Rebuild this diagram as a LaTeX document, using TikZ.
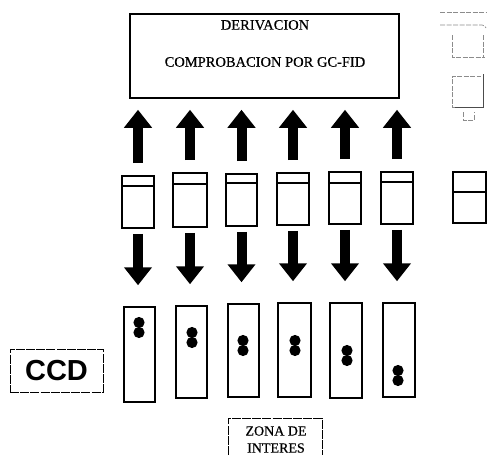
\documentclass[tikz,border=0pt]{standalone}
\usepackage{fontspec}
\setmainfont{Liberation Serif}[FakeBold=0.5]
\newfontfamily\ccdfont{Liberation Sans}
\usetikzlibrary{arrows.meta}
\begin{document}
\begin{tikzpicture}[x=1pt,y=-1pt,
  vial/.style={draw, line width=1.7pt, minimum width=32pt, minimum height=52pt, inner sep=0pt,
    path picture={\draw[line width=1.7pt] ([yshift=-#1]path picture bounding box.north west) -- ([yshift=-#1]path picture bounding box.north east);}},
  vial/.default=10pt,
  plate/.style={draw, line width=1.5pt, minimum width=31pt, minimum height=95pt, inner sep=0pt},
  fat/.style={line width=10pt, -{Triangle[length=18pt,width=27pt]}},
  upfat/.style={fat, shorten <=12pt, shorten >=11pt},
  downfat/.style={fat, shorten <=5pt, shorten >=21pt},
  spot/.style={fill=black},
  txt/.style={font=\fontsize{14.5}{17}\selectfont, inner sep=0pt},
  faint/.style={draw=black!45, line width=0.7pt, dash pattern=on 5pt off 1.5pt},
  thin broken/.style={draw, line width=0.8pt, dash pattern=on 9pt off 1.2pt}
]
\useasboundingbox (0,0) rectangle (488,455);

% top box
\node[draw, line width=1.5pt, minimum width=269pt, minimum height=84pt, inner sep=0pt] (box) at (264.5,56) {};
\node[txt] (t1) at (265,25) {DERIVACION};
\node[txt] (t2) at (265,62) {COMPROBACION POR GC-FID};

% vials
\node[vial] (v1) at (138,202) {};
\node[vial=11pt, minimum width=34pt, minimum height=54pt] (v2) at (190,200) {};
\node[vial=9pt, minimum width=31pt] (v3) at (241.5,200) {};
\node[vial] (v4) at (293,199) {};
\node[vial=11pt] (v5) at (345,198) {};
\node[vial] (v6) at (397,198) {};
\node[vial=20pt, minimum width=33pt, minimum height=51pt] (v7) at (469.5,197.5) {};

% plates
\node[plate] (p1) at (139.5,354.5) {};
\node[plate, minimum height=92pt] (p2) at (191.5,352) {};
\node[plate, minimum height=93pt] (p3) at (243.5,350.5) {};
\node[plate, minimum width=33pt, minimum height=94pt] (p4) at (294.5,350) {};
\node[plate, minimum width=32pt] (p5) at (346,350.5) {};
\node[plate, minimum width=32pt, minimum height=94pt] (p6) at (399,350) {};

% arrows
\foreach \i in {1,...,6}{
  \draw[upfat] (v\i.north) -- (v\i.north |- box.south);
  \draw[downfat] (v\i.south) -- (v\i.south |- p\i.north);
}

% spots
\foreach \x/\y in {139/322.5, 192/332.5, 243/340.5, 295/340.5, 347/350.5, 398/370.5}{
  \fill[spot] (\x,\y) circle[radius=5.6pt];
  \fill[spot] (\x,\y+10) circle[radius=5.6pt];
}

% CCD
\node[thin broken, minimum width=93pt, minimum height=43pt, inner sep=0pt,
      font=\ccdfont\bfseries\fontsize{29}{32}\selectfont] (ccd) at (56.5,370.5) {CCD};

% zona de interes
\node[txt, font=\fontsize{14}{17}\selectfont] (z1) at (276,431) {ZONA DE};
\node[txt, font=\fontsize{14}{17}\selectfont] (z2) at (276,448) {INTERES};
\draw[thin broken] (228,455) -- (228,418) -- (322,418) -- (322,455);

% faint fragments at top right
\draw[faint] (440,12) -- (486,12);
\draw[faint] (440,25) -- (482,25) to[bend left=30] (486,28);
\draw[faint] (452,35) -- (452,57) -- (485,57);
\draw[faint] (483,35) -- (483,57);
\draw[faint] (455,107) -- (452,107) -- (452,76) -- (481,76);
\draw[black!70, line width=0.9pt] (483,74) -- (483,107) -- (455,107);
\draw[faint] (463,112) -- (463,120) -- (474,120) -- (474,112);
\end{tikzpicture}
\end{document}
